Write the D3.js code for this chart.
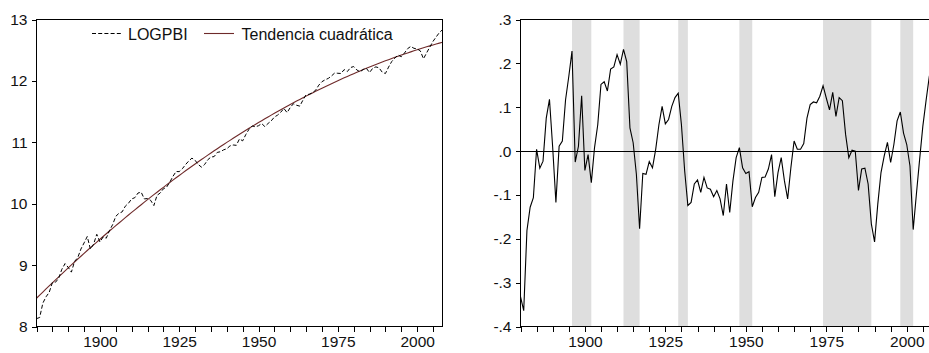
<!DOCTYPE html>
<html>
<head>
<meta charset="utf-8">
<script src="https://cdn.jsdelivr.net/npm/d3@7"></script>
<style>
  body { margin: 0; background: #fff; }
  svg { display: block; font-family: "Liberation Sans", Arial, sans-serif; }
</style>
</head>
<body>
<svg id="chart" width="929" height="353"></svg>
<script>
// Primer año de la muestra anual
const anioInicial = 1880;

// Componente cíclico (desvío de LOGPBI respecto de su tendencia cuadrática), 1880–2008
const ciclo = [
  -0.332, -0.364, -0.181, -0.128, -0.106,  0.004, -0.039, -0.023,  0.075,  0.118, // 1880-1889
   0.008, -0.117,  0.011,  0.023,  0.117,  0.170,  0.228, -0.025,  0.011,  0.126, // 1890-1899
  -0.044, -0.008, -0.072,  0.008,  0.060,  0.152,  0.158,  0.137,  0.187,  0.192, // 1900-1909
   0.220,  0.198,  0.232,  0.204,  0.053,  0.019, -0.053, -0.177, -0.051, -0.053, // 1910-1919
  -0.024, -0.038,  0.004,  0.060,  0.102,  0.062,  0.072,  0.102,  0.122,  0.132, // 1920-1929
   0.060, -0.045, -0.124, -0.117, -0.075, -0.066, -0.094, -0.060, -0.084, -0.087, // 1930-1939
  -0.104, -0.090, -0.109, -0.147, -0.075, -0.140, -0.068, -0.015,  0.008, -0.038, // 1940-1949
  -0.051, -0.047, -0.127, -0.106, -0.094, -0.060, -0.059, -0.041, -0.008, -0.104, // 1950-1959
  -0.049, -0.015, -0.068, -0.109, -0.038,  0.023,  0.004,  0.004,  0.017,  0.075, // 1960-1969
   0.106,  0.112,  0.110,  0.125,  0.149,  0.121,  0.094,  0.134,  0.079,  0.122, // 1970-1979
   0.115,  0.038, -0.015,  0.002,  0.000, -0.090, -0.041, -0.039, -0.075, -0.166, // 1980-1989
  -0.207, -0.121, -0.049, -0.011,  0.020, -0.026,  0.015,  0.069,  0.089,  0.041, // 1990-1999
   0.015, -0.034, -0.179, -0.098, -0.019,  0.057,  0.115,  0.170,  0.205          // 2000-2008
];

// Coeficientes de la tendencia cuadrática: a + b·t + c·t², con t = año − 1880
const tendenciaCoef = [8.46, 0.050887, -0.00014304];

// Períodos sombreados [inicio, fin]
const bandas = [[1896, 1902], [1912, 1917], [1929, 1932], [1948, 1952], [1974, 1989], [1998, 2002]];

// Marcas de los ejes
const ticksIzq = [8, 9, 10, 11, 12, 13];
const ticksDer = [-0.4, -0.3, -0.2, -0.1, 0.0, 0.1, 0.2, 0.3];
const ticksAnios = [1880, 1885, 1890, 1895, 1900, 1905, 1910, 1915, 1920, 1925, 1930, 1935, 1940,
                    1945, 1950, 1955, 1960, 1965, 1970, 1975, 1980, 1985, 1990, 1995, 2000, 2005];
const aniosEtiqueta = [1900, 1925, 1950, 1975, 2000];

// Series derivadas
const serie = ciclo.map((c, i) => {
  const anio = anioInicial + i;
  const t = anio - anioInicial;
  const tend = tendenciaCoef[0] + tendenciaCoef[1] * t + tendenciaCoef[2] * t * t;
  return { anio, ciclo: c, tendencia: tend, logpbi: tend + c };
});
const anioFinal = anioInicial + ciclo.length - 1;

const svg = d3.select("#chart");
const fontTick = "15.5px";

function ejeX(g, x, yBase) {
  const ax = d3.axisBottom(x)
    .tickValues(ticksAnios)
    .tickSize(5)
    .tickPadding(4)
    .tickFormat(d => aniosEtiqueta.includes(d) ? String(d) : "");
  g.attr("transform", `translate(0,${yBase})`).call(ax);
  g.select(".domain").remove();
  g.selectAll("line").attr("stroke", "#000").attr("shape-rendering", "crispEdges");
  g.selectAll("text").attr("fill", "#111").style("font-size", fontTick)
    .attr("font-family", "Liberation Sans, Arial, sans-serif");
}

function ejeY(g, y, xBase, valores, formato) {
  const ax = d3.axisLeft(y).tickValues(valores).tickSize(5).tickPadding(4).tickFormat(formato);
  g.attr("transform", `translate(${xBase},0)`).call(ax);
  g.select(".domain").remove();
  g.selectAll("line").attr("stroke", "#000").attr("shape-rendering", "crispEdges");
  g.selectAll("text").attr("fill", "#111").style("font-size", fontTick)
    .attr("font-family", "Liberation Sans, Arial, sans-serif");
}

// ---------- Panel izquierdo: LOGPBI y tendencia cuadrática ----------
{
  const x0 = 36.5, x1 = 442.5, y0 = 19.5, y1 = 326.5;
  const x = d3.scaleLinear().domain([anioInicial, anioFinal]).range([x0, x1]);
  const y = d3.scaleLinear().domain([8, 13]).range([y1, y0]);
  const g = svg.append("g");

  g.append("path").datum(serie)
    .attr("fill", "none").attr("stroke", "#6e2a2a").attr("stroke-width", 1.1)
    .attr("d", d3.line().x(d => x(d.anio)).y(d => y(d.tendencia)));

  g.append("path").datum(serie)
    .attr("fill", "none").attr("stroke", "#000").attr("stroke-width", 1)
    .attr("stroke-dasharray", "4,2.2")
    .attr("d", d3.line().x(d => x(d.anio)).y(d => y(d.logpbi)));

  g.append("rect").attr("x", x0).attr("y", y0).attr("width", x1 - x0).attr("height", y1 - y0)
    .attr("fill", "none").attr("stroke", "#000").attr("stroke-width", 1)
    .attr("shape-rendering", "crispEdges");

  ejeX(g.append("g"), x, y1);
  ejeY(g.append("g"), y, x0, ticksIzq, d3.format("d"));

  // Leyenda
  const ley = g.append("g").style("font-size", "16px").attr("fill", "#111");
  ley.append("line").attr("x1", 92).attr("x2", 122).attr("y1", 33.5).attr("y2", 33.5)
    .attr("stroke", "#000").attr("stroke-width", 1).attr("stroke-dasharray", "4,2.2");
  ley.append("text").attr("x", 128).attr("y", 39.5).text("LOGPBI");
  ley.append("line").attr("x1", 204).attr("x2", 234).attr("y1", 33.5).attr("y2", 33.5)
    .attr("stroke", "#6e2a2a").attr("stroke-width", 1.1);
  ley.append("text").attr("x", 241.5).attr("y", 39.5).text("Tendencia cuadrática");
}

// ---------- Panel derecho: componente cíclico ----------
{
  const x0 = 520.5, x1 = 932.5, y0 = 19.5, y1 = 326.5;
  const x = d3.scaleLinear().domain([anioInicial, anioFinal]).range([x0, x1]);
  const y = d3.scaleLinear().domain([-0.4, 0.3]).range([y1, y0]);
  const g = svg.append("g");

  g.selectAll("rect.banda").data(bandas).join("rect")
    .attr("class", "banda")
    .attr("x", d => x(d[0])).attr("width", d => x(d[1]) - x(d[0]))
    .attr("y", y0).attr("height", y1 - y0)
    .attr("fill", "#dedede");

  g.append("line").attr("x1", x0).attr("x2", x1).attr("y1", y(0)).attr("y2", y(0))
    .attr("stroke", "#000").attr("stroke-width", 1).attr("shape-rendering", "crispEdges");

  g.append("path").datum(serie)
    .attr("fill", "none").attr("stroke", "#000").attr("stroke-width", 1.1)
    .attr("d", d3.line().x(d => x(d.anio)).y(d => y(d.ciclo)));

  g.append("rect").attr("x", x0).attr("y", y0).attr("width", x1 - x0).attr("height", y1 - y0)
    .attr("fill", "none").attr("stroke", "#000").attr("stroke-width", 1)
    .attr("shape-rendering", "crispEdges");

  ejeX(g.append("g"), x, y1);
  // Etiquetas al estilo ".1", "-.2" (sin cero inicial, guion simple)
  const fmt = d => d3.format(".1f")(d).replace("\u2212", "-").replace("0.", ".");
  ejeY(g.append("g"), y, x0, ticksDer, fmt);
}
</script>
</body>
</html>
